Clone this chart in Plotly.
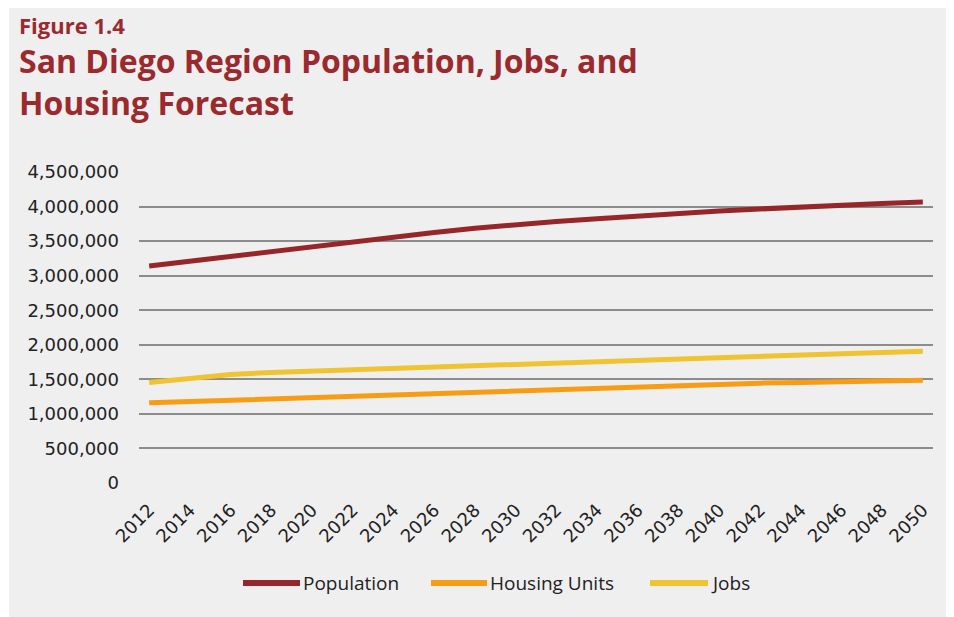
import plotly.graph_objects as go

years = list(range(2012, 2051, 2))
population = [3140000, 3210000, 3280000, 3350000, 3425000, 3495000, 3560000, 3625000, 3685000, 3740000,
              3785000, 3825000, 3865000, 3900000, 3935000, 3965000, 3995000, 4020000, 4045000, 4065000]
housing = [1160000, 1180000, 1200000, 1220000, 1240000, 1260000, 1280000, 1300000, 1320000, 1340000,
           1360000, 1380000, 1400000, 1415000, 1430000, 1445000, 1455000, 1465000, 1475000, 1485000]
jobs = [1455000, 1510000, 1570000, 1600000, 1620000, 1645000, 1665000, 1685000, 1705000, 1725000,
        1745000, 1765000, 1785000, 1800000, 1820000, 1840000, 1855000, 1870000, 1890000, 1905000]
y_ticks = [0, 500000, 1000000, 1500000, 2000000, 2500000, 3000000, 3500000, 4000000, 4500000]
x_ticks = years

series = [("Population", population, "#96262a"),
          ("Housing Units", housing, "#f89c14"),
          ("Jobs", jobs, "#f0c330")]

fig = go.Figure()
for name, vals, col in series:
    fig.add_trace(go.Scatter(x=years, y=vals, name=name, mode="lines",
                             line=dict(color=col, width=5), showlegend=False))

font_title = "Open Sans, Noto Sans, sans-serif"
font_axis = "DejaVu Sans, sans-serif"
title_col = "#9b2a2e"

# figure is placed at (8,8) in the page; plot area spans fig x 131..925, y 164..475
W, H = 946, 609
L, R, T, B = 131, 21, 164, 134
PW, PH = W - L - R, H - T - B


def px(x):
    return (x - L) / PW


def py(y):
    return (T + PH - y) / PH


shapes = [dict(type="rect", xref="paper", yref="paper",
               x0=px(1), x1=px(940), y0=py(609), y1=py(-2),
               fillcolor="#efefef", line=dict(width=0), layer="below")]
annotations = [
    dict(text="<b>Figure 1.4</b>", xref="paper", yref="paper",
         x=px(9), y=py(17.5), xanchor="left", yanchor="middle",
         showarrow=False, font=dict(family=font_title, size=22, color=title_col)),
    dict(text="<b>San Diego Region Population, Jobs, and<br>Housing Forecast</b>",
         xref="paper", yref="paper", align="left",
         x=px(9), y=py(73.5), xanchor="left", yanchor="middle",
         showarrow=False, font=dict(family=font_title, size=32, color=title_col)),
]

# manual legend (long line samples like the reference)
legend_y = 575
legend_pos = [(235, 292), (423, 479), (642, 700)]
for (name, _, col), (x0, x1) in zip(series, legend_pos):
    shapes.append(dict(type="line", xref="paper", yref="paper",
                       x0=px(x0), x1=px(x1), y0=py(legend_y), y1=py(legend_y),
                       line=dict(color=col, width=6)))
    annotations.append(dict(text=name, xref="paper", yref="paper",
                            x=px(x1 + 1), y=py(legend_y), xanchor="left", yanchor="middle",
                            showarrow=False,
                            font=dict(family=font_title, size=19, color="#222222")))

fig.update_layout(
    width=W, height=H,
    paper_bgcolor="white", plot_bgcolor="#efefef",
    margin=dict(l=L, r=R, t=T, b=B),
    font=dict(family=font_axis, size=18, color="#222222"),
    showlegend=False,
    xaxis=dict(range=[2011.5, 2050.5], tickmode="array", tickvals=x_ticks,
               ticktext=[str(v) for v in x_ticks], tickangle=-45, showgrid=False,
               zeroline=False, showline=False, ticks="", ticklabelstandoff=12,
               tickfont=dict(family=font_axis, size=18, color="#222222")),
    yaxis=dict(range=[0, 4500000], tickmode="array", tickvals=y_ticks,
               ticktext=[f"{v:,}" for v in y_ticks], showgrid=True, gridcolor="#8c8c8c",
               gridwidth=1.5, zeroline=False, showline=False, ticks="",
               ticklabelstandoff=19,
               tickfont=dict(family=font_axis, size=18, color="#222222")),
    shapes=shapes,
    annotations=annotations,
)

fig.write_html("out.html")
